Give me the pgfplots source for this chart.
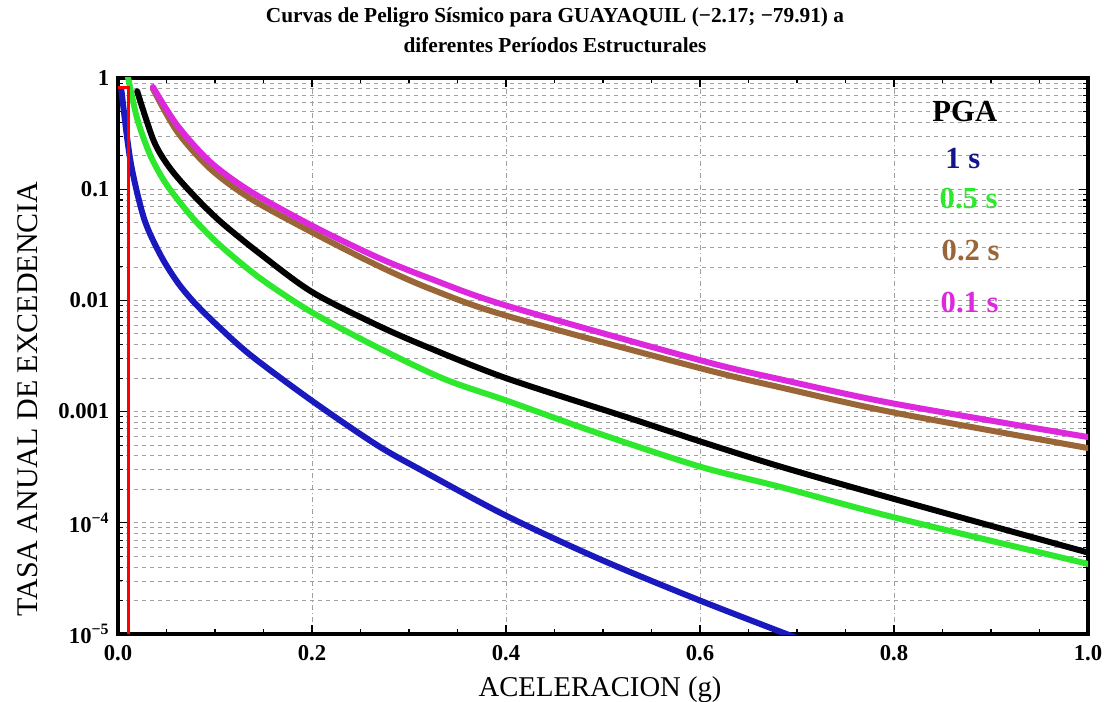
\documentclass[border=0pt]{standalone}
\usepackage{fontspec}
\setmainfont{Liberation Serif}
\usepackage{pgfplots}
\pgfplotsset{compat=1.18}

\definecolor{cblue}{RGB}{25,25,190}
\definecolor{cnavy}{RGB}{20,20,140}
\definecolor{cgreen}{RGB}{45,232,45}
\definecolor{cbrown}{RGB}{155,102,55}
\definecolor{cmag}{RGB}{222,40,222}
\definecolor{cgrid}{RGB}{160,160,160}

\begin{document}
\begin{tikzpicture}
\useasboundingbox (-88.5pt,-51pt) rectangle (746.25pt,475.5pt);
\begin{axis}[
  at={(0,0)}, anchor=south west,
  scale only axis, width=727.5pt, height=417pt,
  xmin=0, xmax=1, ymin=1e-5, ymax=1,
  ymode=log,
  axis line style={line width=3.5pt, line cap=rect},
  tick align=inside,
  major tick length=7pt, minor tick length=4pt,
  tick style={black, line width=0.8pt},
  xtick={0,0.2,0.4,0.6,0.8,1},
  xticklabels={0.0,0.2,0.4,0.6,0.8,1.0},
  minor x tick num=3,
  ytick={1e-5,1e-4,1e-3,1e-2,1e-1,1},
  yticklabels={10\textsuperscript{−5},10\textsuperscript{−4},0.001,0.01,0.1,1},
  minor ytick={2e-5,3e-5,4e-5,5e-5,6e-5,7e-5,8e-5,9e-5,
               2e-4,3e-4,4e-4,5e-4,6e-4,7e-4,8e-4,9e-4,
               2e-3,3e-3,4e-3,5e-3,6e-3,7e-3,8e-3,9e-3,
               2e-2,3e-2,4e-2,5e-2,6e-2,7e-2,8e-2,9e-2,
               0.2,0.3,0.4,0.5,0.6,0.7,0.8,0.9},
  ticklabel style={font=\bfseries\fontsize{17}{20}\selectfont},
  xticklabel style={yshift=-5pt},
  yticklabel style={xshift=-3pt},
  xmajorgrids, ymajorgrids, yminorgrids,
  major x grid style={cgrid, line width=0.6pt, dash pattern=on 4pt off 2pt on 1pt off 2pt},
  major y grid style={cgrid, line width=0.6pt, dash pattern=on 3pt off 3pt},
  minor y grid style={cgrid, line width=0.6pt, dash pattern=on 3pt off 3pt},
  title={Curvas de Peligro Sísmico para GUAYAQUIL (−2.17; −79.91) a\\[3pt]diferentes Períodos Estructurales},
  title style={at={(axis description cs:0.4505,1.072)}, anchor=center, align=center,
               font=\bfseries\fontsize{16}{19.5}\selectfont},
  xlabel={ACELERACION (g)},
  xlabel style={at={(axis description cs:0.497,-0.1007)}, anchor=center,
                font=\fontsize{21.5}{24}\selectfont},
  ylabel={TASA ANUAL DE EXCEDENCIA},
  ylabel style={at={(axis description cs:-0.0935,0.4227)}, anchor=center,
                font=\fontsize{22.5}{24}\selectfont},
  every axis plot/.append style={line join=round, line cap=round},
]
% 1 s
\addplot[cblue, line width=4.5pt, smooth, tension=0.5] coordinates {
  (0.0035,0.78) (0.013,0.176) (0.027,0.054) (0.044,0.0254) (0.061,0.0147)
  (0.078,0.0097) (0.102,0.0060) (0.137,0.0032) (0.2,0.00125) (0.267,0.00050)
  (0.315,0.00029) (0.4,0.000116) (0.497,0.000047) (0.6,0.000020) (0.70,0.0000092)
};
% 0.5 s
\addplot[cgreen, line width=4.5pt, smooth, tension=0.5] coordinates {
  (0.010,1.05) (0.0198,0.43) (0.0335,0.20) (0.0507,0.108) (0.078,0.054)
  (0.1057,0.031) (0.147,0.0157) (0.2,0.0078) (0.267,0.0038) (0.336,0.00197)
  (0.4,0.00126) (0.497,0.00063) (0.6,0.00032) (0.683,0.00021) (0.8,0.000112) (1.0,0.0000427)
};
% PGA
\addplot[black, line width=4.5pt, smooth, tension=0.5] coordinates {
  (0.0198,0.76) (0.037,0.27) (0.054,0.153) (0.078,0.088) (0.1057,0.051)
  (0.147,0.026) (0.2,0.0119) (0.267,0.0060) (0.319,0.0038) (0.4,0.0020)
  (0.528,0.00087) (0.6,0.00054) (0.683,0.00032) (0.8,0.000164) (1.0,0.000054)
};
% 0.2 s
\addplot[cbrown, line width=4.5pt, smooth, tension=0.5] coordinates {
  (0.036,0.80) (0.061,0.33) (0.095,0.153) (0.137,0.082) (0.2,0.041)
  (0.267,0.0207) (0.322,0.0127) (0.4,0.0073) (0.6,0.00246) (0.683,0.00165)
  (0.8,0.00098) (1.0,0.00047)
};
% 0.1 s
\addplot[cmag, line width=4.5pt, smooth, tension=0.5] coordinates {
  (0.036,0.83) (0.061,0.376) (0.095,0.176) (0.137,0.095) (0.2,0.047)
  (0.267,0.0245) (0.322,0.0157) (0.4,0.0090) (0.6,0.0029) (0.683,0.00195)
  (0.8,0.00118) (1.0,0.00059)
};
% marker line
\addplot[red, line width=2.2pt, line cap=butt, line join=miter] coordinates {
  (0,0.82) (0.011,0.82) (0.011,1e-5)
};
\node[font=\bfseries\fontsize{23}{24}\selectfont, text=black] at (rel axis cs:0.873,0.939) {PGA};
\node[font=\bfseries\fontsize{23}{24}\selectfont, text=cnavy] at (rel axis cs:0.871,0.8543) {1 s};
\node[font=\bfseries\fontsize{23}{24}\selectfont, text=cgreen] at (rel axis cs:0.877,0.784) {0.5 s};
\node[font=\bfseries\fontsize{23}{24}\selectfont, text=cbrown] at (rel axis cs:0.879,0.6906) {0.2 s};
\node[font=\bfseries\fontsize{23}{24}\selectfont, text=cmag] at (rel axis cs:0.878,0.597) {0.1 s};
\end{axis}
\end{tikzpicture}
\end{document}
